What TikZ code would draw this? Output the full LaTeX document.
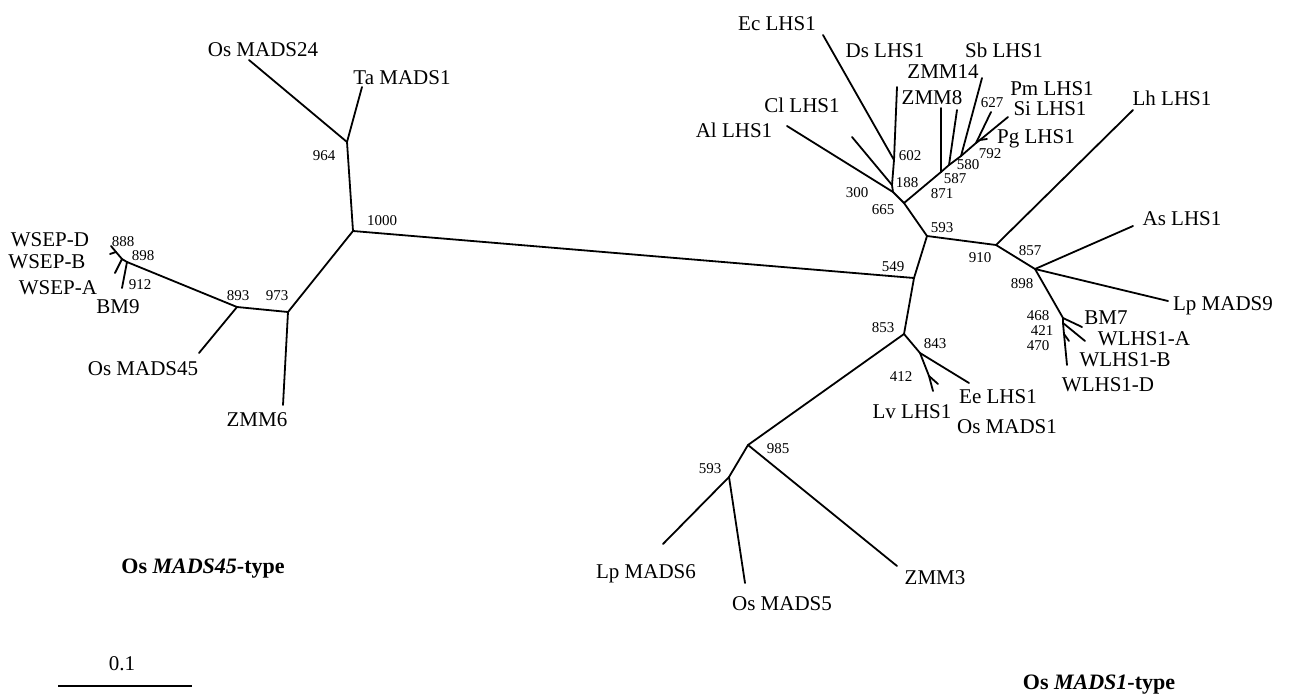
\documentclass[tikz,border=0pt]{standalone}
\usepackage{fontspec}
\setmainfont{Liberation Serif}
\begin{document}
\begin{tikzpicture}[x=1pt,y=-1pt,
  br/.style={line width=1.8pt, line cap=round, line join=round},
  lab/.style={font=\fontsize{21}{24}\selectfont, anchor=base, inner sep=0pt},
  bs/.style={font=\fontsize{15}{17}\selectfont, anchor=base, inner sep=0pt},
  ttl/.style={font=\fontsize{22}{26}\selectfont\bfseries, anchor=base, inner sep=0pt}]
\useasboundingbox (0,0) rectangle (1290,694);
% ---------- tree coordinates ----------
\coordinate (n1000) at (353,231);
\coordinate (n964) at (347,142);
\coordinate (tOsMADS24) at (249,60);
\coordinate (tTaMADS1) at (362,87);
\coordinate (n973) at (288,312);
\coordinate (tZMM6) at (283,405);
\coordinate (n893) at (237,307);
\coordinate (tOsMADS45) at (199,353);
\coordinate (n912) at (127,262);
\coordinate (tBM9) at (122,288);
\coordinate (n898L) at (122,259);
\coordinate (tWSEPA) at (115,273);
\coordinate (n888) at (116,252);
\coordinate (tWSEPD) at (111,246);
\coordinate (tWSEPB) at (110,254);
\coordinate (n549) at (914,278);
\coordinate (n593) at (927,236);
\coordinate (n853) at (904,334);
\coordinate (n665) at (904,203);
\coordinate (n300) at (893,192);
\coordinate (tAl) at (787,126);
\coordinate (n188) at (892,185);
\coordinate (tCl) at (852,137);
\coordinate (n602) at (894,160);
\coordinate (tEc) at (823,35);
\coordinate (tDs) at (897,87);
\coordinate (n871) at (941,172);
\coordinate (tZMM8) at (941,108);
\coordinate (n587) at (949,165);
\coordinate (tZMM14) at (957,110);
\coordinate (n580) at (961,156);
\coordinate (tSb) at (982,78);
\coordinate (n792) at (976,143);
\coordinate (tPm) at (991,112);
\coordinate (n627) at (980,140);
\coordinate (tSi) at (1008,117);
\coordinate (tPg) at (987,139);
\coordinate (n910) at (996,245);
\coordinate (tLh) at (1133,110);
\coordinate (n857) at (1035,269);
\coordinate (tAs) at (1133,226);
\coordinate (tLpMADS9) at (1168,301);
\coordinate (n468) at (1063,318);
\coordinate (tBM7) at (1082,327);
\coordinate (n421) at (1063,323);
\coordinate (tWA) at (1085,341);
\coordinate (n470) at (1064,334);
\coordinate (tWB) at (1069,341);
\coordinate (tWD) at (1067,365);
\coordinate (n843) at (920,353);
\coordinate (tEe) at (969,383);
\coordinate (n412) at (929,376);
\coordinate (tLv) at (933,391);
\coordinate (tOsMADS1) at (938,384);
\coordinate (n985) at (748,445);
\coordinate (n593b) at (729,477);
\coordinate (tLpMADS6) at (663,544);
\coordinate (tOsMADS5) at (745,583);
\coordinate (tZMM3) at (897,566);
\coordinate (sbL) at (58,686);
\coordinate (sbR) at (192,686);
% ---------- branches ----------
\draw[br] (n1000) -- (n964) -- (tOsMADS24);
\draw[br] (n964) -- (tTaMADS1);
\draw[br] (n1000) -- (n973) -- (tZMM6);
\draw[br] (n973) -- (n893) -- (tOsMADS45);
\draw[br] (n893) -- (n912) -- (tBM9);
\draw[br] (n912) -- (n898L) -- (tWSEPA);
\draw[br] (n898L) -- (n888) -- (tWSEPD);
\draw[br] (n888) -- (tWSEPB);
\draw[br] (n1000) -- (n549);
\draw[br] (n549) -- (n593) -- (n665) -- (n300) -- (tAl);
\draw[br] (n300) -- (n188) -- (tCl);
\draw[br] (n188) -- (n602) -- (tEc);
\draw[br] (n602) -- (tDs);
\draw[br] (n665) -- (n871) -- (n587) -- (n580) -- (n792) -- (n627) -- (tSi);
\draw[br] (n871) -- (tZMM8);
\draw[br] (n587) -- (tZMM14);
\draw[br] (n580) -- (tSb);
\draw[br] (n792) -- (tPm);
\draw[br] (n627) -- (tPg);
\draw[br] (n593) -- (n910) -- (tLh);
\draw[br] (n910) -- (n857) -- (tAs);
\draw[br] (n857) -- (tLpMADS9);
\draw[br] (n857) -- (n468) -- (tBM7);
\draw[br] (n468) -- (n421) -- (tWA);
\draw[br] (n421) -- (n470) -- (tWB);
\draw[br] (n470) -- (tWD);
\draw[br] (n549) -- (n853) -- (n843) -- (tEe);
\draw[br] (n843) -- (n412) -- (tLv);
\draw[br] (n412) -- (tOsMADS1);
\draw[br] (n853) -- (n985) -- (tZMM3);
\draw[br] (n985) -- (n593b) -- (tLpMADS6);
\draw[br] (n593b) -- (tOsMADS5);
\draw[line width=1.6pt] (sbL) -- (sbR);
% ---------- taxon labels ----------
\node[lab] (lOsMADS24) at (263,56) {Os MADS24};
\node[lab] (lTaMADS1) at (402,84) {Ta MADS1};
\node[lab] (lZMM6) at (257,426) {ZMM6};
\node[lab] (lOsMADS45) at (143,375) {Os MADS45};
\node[lab] (lWSEPD) at (50,246) {WSEP-D};
\node[lab] (lWSEPB) at (47,268) {WSEP-B};
\node[lab] (lWSEPA) at (58,294) {WSEP-A};
\node[lab] (lBM9) at (118,313) {BM9};
\node[lab] (lEc) at (777,30) {Ec LHS1};
\node[lab] (lDs) at (885,57) {Ds LHS1};
\node[lab] (lZMM14) at (943,78) {ZMM14};
\node[lab] (lZMM8) at (932,104) {ZMM8};
\node[lab] (lSb) at (1004,57) {Sb LHS1};
\node[lab] (lPm) at (1052,95) {Pm LHS1};
\node[lab] (lSi) at (1050,115) {Si LHS1};
\node[lab] (lPg) at (1036,143) {Pg LHS1};
\node[lab] (lCl) at (802,112) {Cl LHS1};
\node[lab] (lAl) at (734,137) {Al LHS1};
\node[lab] (lLh) at (1172,105) {Lh LHS1};
\node[lab] (lAs) at (1182,225) {As LHS1};
\node[lab] (lLpMADS9) at (1223,310) {Lp MADS9};
\node[lab] (lBM7) at (1106,324) {BM7};
\node[lab] (lWA) at (1144,345) {WLHS1-A};
\node[lab] (lWB) at (1125,366) {WLHS1-B};
\node[lab] (lWD) at (1108,391) {WLHS1-D};
\node[lab] (lEe) at (998,403) {Ee LHS1};
\node[lab] (lLv) at (912,418) {Lv LHS1};
\node[lab] (lOsMADS1) at (1007,433) {Os MADS1};
\node[lab] (lLpMADS6) at (646,578) {Lp MADS6};
\node[lab] (lOsMADS5) at (782,610) {Os MADS5};
\node[lab] (lZMM3) at (935,584) {ZMM3};
\node[lab] (lscale) at (122,670) {0.1};
% ---------- bootstrap values ----------
\node[bs] (b964) at (324,160) {964};
\node[bs] (b1000) at (382,225) {1000};
\node[bs] (b973) at (277,300) {973};
\node[bs] (b893) at (238,300) {893};
\node[bs] (b888) at (123,246) {888};
\node[bs] (b898L) at (143,260) {898};
\node[bs] (b912) at (140,289) {912};
\node[bs] (b549) at (893,271) {549};
\node[bs] (b593) at (942,232) {593};
\node[bs] (b853) at (883,332) {853};
\node[bs] (b665) at (883,214) {665};
\node[bs] (b300) at (857,197) {300};
\node[bs] (b188) at (907,187) {188};
\node[bs] (b602) at (910,160) {602};
\node[bs] (b871) at (942,198) {871};
\node[bs] (b587) at (955,183) {587};
\node[bs] (b580) at (968,169) {580};
\node[bs] (b792) at (990,158) {792};
\node[bs] (b627) at (992,107) {627};
\node[bs] (b910) at (980,262) {910};
\node[bs] (b857) at (1030,255) {857};
\node[bs] (b898R) at (1022,288) {898};
\node[bs] (b468) at (1038,320) {468};
\node[bs] (b421) at (1042,335) {421};
\node[bs] (b470) at (1038,350) {470};
\node[bs] (b843) at (935,348) {843};
\node[bs] (b412) at (901,381) {412};
\node[bs] (b985) at (778,453) {985};
\node[bs] (b593b) at (710,473) {593};
% ---------- group titles ----------
\node[ttl] (gMADS45) at (203,573) {Os \textit{MADS45}-type};
\node[ttl] (gMADS1) at (1099,689) {Os \textit{MADS1}-type};
\end{tikzpicture}
\end{document}
